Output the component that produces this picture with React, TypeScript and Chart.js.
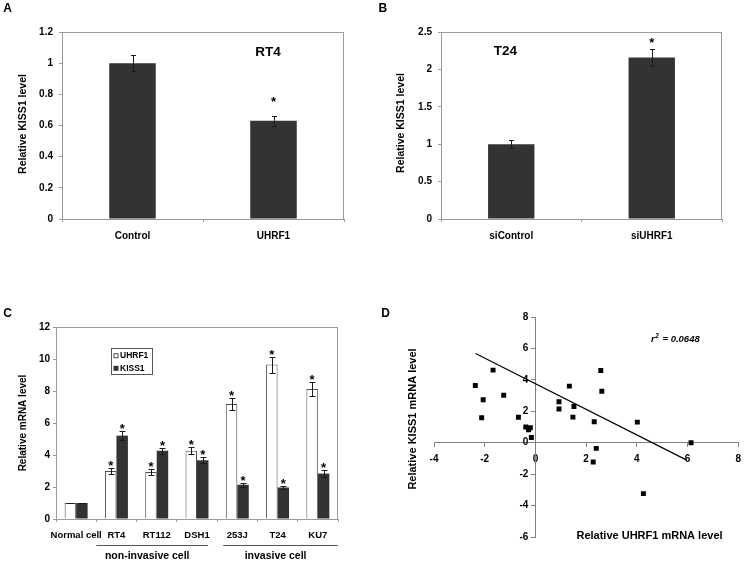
import React, { useEffect, useRef } from "react";
import { Chart, registerables } from "chart.js";

Chart.register(...registerables);

// ---------------- data ----------------
// Panel A (RT4, UHRF1 overexpression)
const aCategories = ["Control", "UHRF1"];
const aValues = [1.0, 0.63];
const aErrors = [0.05, 0.03];
const aSignificant = [false, true];

// Panel B (T24, UHRF1 knock-down)
const bCategories = ["siControl", "siUHRF1"];
const bValues = [1.0, 2.16];
const bErrors = [0.05, 0.11];
const bSignificant = [false, true];

// Panel C (cell lines)
const cCategories = ["Normal cell", "RT4", "RT112", "DSH1", "253J", "T24", "KU7"];
const cUhrf1 = [1.0, 3.0, 2.93, 4.26, 7.18, 9.65, 8.12];
const cUhrf1Err = [0.03, 0.2, 0.18, 0.22, 0.36, 0.5, 0.42];
const cKiss1 = [1.0, 5.21, 4.26, 3.67, 2.14, 1.97, 2.84];
const cKiss1Err = [0.03, 0.28, 0.2, 0.2, 0.13, 0.12, 0.2];
const cSignificant = [false, true, true, true, true, true, true];
const cGroupLabels = ["non-invasive cell", "invasive cell"];
const cGroupStart = [1, 4];
const cGroupEnd = [3, 6];

// Panel D (correlation)
const dUhrf1 = [-2.37, -2.06, -2.12, -1.67, -1.25, -0.67, -0.38, -0.27, -0.2, -0.16, 0.93, 0.93, 1.34, 1.52, 1.48, 2.58, 2.62, 2.32, 2.4, 2.28, 4.02, 4.26, 6.14];
const dKiss1 = [3.64, 2.74, 1.59, 4.62, 3.02, 1.62, 1.0, 0.82, 0.95, 0.33, 2.61, 2.15, 3.6, 2.3, 1.63, 4.6, 3.28, 1.34, -0.36, -1.23, 1.31, -3.24, 0.0];
const dTrendX = [-2.36, 5.97];
const dTrendY = [5.68, -1.11];
const dRSquared = "0.0648";

// ---------------- styles ----------------
const FONT = "'Liberation Sans', Arial, Helvetica, sans-serif";
const INK = "#000000";
const DARK_BAR = "#333333";
const FRAME = "#9a9a9a";
const AXIS = "#808080";

type Area = { left: number; top: number; right: number; bottom: number };

const fmt = (v: any) => `${Math.round(Number(v) * 100) / 100}`;

function drawText(
  ctx: any,
  str: string,
  x: number,
  y: number,
  size: number,
  opts: { align?: string; rotate?: number; italic?: boolean } = {}
) {
  ctx.save();
  ctx.font = `${opts.italic ? "italic " : ""}bold ${size}px ${FONT}`;
  ctx.fillStyle = INK;
  ctx.textAlign = opts.align || "center";
  ctx.textBaseline = "middle";
  ctx.translate(x, y);
  if (opts.rotate) ctx.rotate(opts.rotate);
  ctx.fillText(str, 0, 0);
  ctx.restore();
}

function errorBarPlugin(capHalf: number, starGap: number, starSize: number) {
  return {
    id: "errorBars",
    afterDatasetsDraw(chart: any) {
      const ctx = chart.ctx;
      const ys = chart.scales.y;
      chart.data.datasets.forEach((ds: any, di: number) => {
        if (!ds.errors) return;
        const meta = chart.getDatasetMeta(di);
        meta.data.forEach((el: any, i: number) => {
          const v = ds.data[i];
          const e = ds.errors[i];
          const x = Math.round(el.x) + 0.5;
          const yt = Math.round(ys.getPixelForValue(v + e)) + 0.5;
          const yb = Math.round(ys.getPixelForValue(v - e)) + 0.5;
          ctx.save();
          ctx.strokeStyle = "#1a1a1a";
          ctx.lineWidth = 1;
          ctx.beginPath();
          ctx.moveTo(x, yt);
          ctx.lineTo(x, yb);
          ctx.moveTo(x - capHalf, yt);
          ctx.lineTo(x + capHalf, yt);
          ctx.moveTo(x - capHalf, yb);
          ctx.lineTo(x + capHalf, yb);
          ctx.stroke();
          if (ds.significant && ds.significant[i]) {
            ctx.font = `bold ${starSize}px ${FONT}`;
            ctx.fillStyle = INK;
            ctx.textAlign = "center";
            ctx.textBaseline = "alphabetic";
            ctx.fillText("*", el.x, yt - starGap + 0.575 * starSize);
          }
          ctx.restore();
        });
      });
    },
  };
}

const framePlugin = {
  id: "frame",
  beforeDatasetsDraw(chart: any) {
    const { left, top, right, bottom } = chart.chartArea;
    const ctx = chart.ctx;
    ctx.save();
    ctx.strokeStyle = FRAME;
    ctx.lineWidth = 1;
    const l = Math.round(left) + 0.5;
    const t = Math.round(top) + 0.5;
    const r = Math.round(right) - 0.5;
    const b = Math.round(bottom) + 0.5;
    ctx.strokeRect(l, t, r - l, b - t);
    ctx.restore();
  },
};

const tickFont = { family: FONT, size: 10, weight: "bold" as const };

function simpleBarConfig(p: {
  categories: string[];
  values: number[];
  errors: number[];
  sig: boolean[];
  yMax: number;
  yStep: number;
  width: number;
  height: number;
  area: Area;
  letter: string;
  letterPos: [number, number];
  yTitlePos: [number, number];
  cellLabel: string;
  cellLabelPos: [number, number];
  starGap: number;
}) {
  const deco = {
    id: "deco",
    afterDraw(chart: any) {
      const ctx = chart.ctx;
      drawText(ctx, p.letter, p.letterPos[0], p.letterPos[1], 12);
      drawText(ctx, "Relative KISS1 level", p.yTitlePos[0], p.yTitlePos[1], 10.5, { rotate: -Math.PI / 2 });
      drawText(ctx, p.cellLabel, p.cellLabelPos[0], p.cellLabelPos[1], 13.5);
    },
  };
  return {
    type: "bar",
    data: {
      labels: p.categories,
      datasets: [
        {
          data: p.values,
          errors: p.errors,
          significant: p.sig,
          backgroundColor: DARK_BAR,
          borderWidth: 0,
          categoryPercentage: 1,
          barPercentage: 0.33,
        },
      ],
    },
    options: {
      responsive: false,
      animation: false,
      layout: { padding: { left: 0, top: p.area.top, right: p.width - p.area.right, bottom: 0 } },
      plugins: { legend: { display: false }, tooltip: { enabled: false } },
      scales: {
        x: {
          grid: { display: true, drawOnChartArea: false, drawTicks: true, tickLength: 3, color: FRAME, offset: true },
          border: { display: false },
          ticks: { font: tickFont, color: INK, padding: 8, maxRotation: 0, minRotation: 0, autoSkip: false },
          afterFit: (s: any) => {
            s.height = p.height - p.area.bottom;
          },
        },
        y: {
          min: 0,
          max: p.yMax,
          ticks: { stepSize: p.yStep, font: tickFont, color: INK, padding: 6, callback: fmt },
          grid: { drawOnChartArea: false, drawTicks: true, tickLength: 3, color: FRAME },
          border: { display: false },
          afterFit: (s: any) => {
            s.width = p.area.left;
          },
        },
      },
    },
    plugins: [framePlugin, errorBarPlugin(2.5, p.starGap, 13), deco],
  };
}

function configA() {
  return simpleBarConfig({
    categories: aCategories,
    values: aValues,
    errors: aErrors,
    sig: aSignificant,
    yMax: 1.2,
    yStep: 0.2,
    width: 374,
    height: 280,
    area: { left: 62, top: 32, right: 344, bottom: 219 },
    letter: "A",
    letterPos: [7.5, 9],
    yTitlePos: [23, 124],
    cellLabel: "RT4",
    cellLabelPos: [268, 52],
    starGap: 17.5,
  });
}

function configB() {
  return simpleBarConfig({
    categories: bCategories,
    values: bValues,
    errors: bErrors,
    sig: bSignificant,
    yMax: 2.5,
    yStep: 0.5,
    width: 374,
    height: 280,
    area: { left: 67, top: 32, right: 348, bottom: 219 },
    letter: "B",
    letterPos: [8.8, 9],
    yTitlePos: [26.7, 123],
    cellLabel: "T24",
    cellLabelPos: [131.5, 51.7],
    starGap: 10,
  });
}

function configC() {
  const W = 374;
  const H = 284;
  const area: Area = { left: 56, top: 47, right: 338, bottom: 239 };
  const insetL = [0, 6];
  const insetR = [9, 0];
  const deco = {
    id: "deco",
    afterDraw(chart: any) {
      const ctx = chart.ctx;
      drawText(ctx, "C", 7.5, 34, 12);
      drawText(ctx, "Relative mRNA level", 23, 143, 10, { rotate: -Math.PI / 2 });
      // group brackets
      const xs = chart.scales.x;
      const half = (xs.getPixelForValue(1) - xs.getPixelForValue(0)) / 2;
      ctx.save();
      ctx.strokeStyle = "#555555";
      ctx.lineWidth = 1;
      cGroupLabels.forEach((lab, g) => {
        const x1 = xs.getPixelForValue(cGroupStart[g]) - half + insetL[g];
        const x2 = xs.getPixelForValue(cGroupEnd[g]) + half - insetR[g];
        ctx.beginPath();
        ctx.moveTo(x1, 265.5);
        ctx.lineTo(x2, 265.5);
        ctx.stroke();
        drawText(ctx, lab, (x1 + x2) / 2 - 5, 276.5, 10.5);
      });
      ctx.restore();
      // legend
      const box = { left: 111, top: 68, width: 41, height: 26 };
      ctx.save();
      ctx.strokeStyle = "#555555";
      ctx.lineWidth = 1;
      ctx.strokeRect(box.left + 0.5, box.top + 0.5, box.width, box.height);
      chart.data.datasets.forEach((ds: any, i: number) => {
        const cy = 75.7 + i * 12.6;
        ctx.fillStyle = ds.backgroundColor;
        ctx.fillRect(113.5, cy - 2.5, 5, 5);
        if (ds.borderWidth) {
          ctx.strokeStyle = ds.borderColor;
          ctx.strokeRect(114, cy - 2, 4, 4);
        }
        drawText(ctx, ds.label, 120, cy, 8.5, { align: "left" });
      });
      ctx.restore();
    },
  };
  return {
    type: "bar",
    data: {
      labels: cCategories,
      datasets: [
        {
          label: "UHRF1",
          data: cUhrf1,
          errors: cUhrf1Err,
          significant: cSignificant,
          backgroundColor: "#ffffff",
          borderColor: "#4d4d4d",
          borderWidth: 1,
          categoryPercentage: 0.57,
          barPercentage: 1,
        },
        {
          label: "KISS1",
          data: cKiss1,
          errors: cKiss1Err,
          significant: cSignificant,
          backgroundColor: DARK_BAR,
          borderWidth: 0,
          categoryPercentage: 0.57,
          barPercentage: 1,
        },
      ],
    },
    options: {
      responsive: false,
      animation: false,
      layout: { padding: { left: 0, top: area.top, right: W - area.right, bottom: 0 } },
      plugins: { legend: { display: false }, tooltip: { enabled: false } },
      scales: {
        x: {
          grid: { display: true, drawOnChartArea: false, drawTicks: true, tickLength: 3, color: FRAME, offset: true },
          border: { display: false },
          ticks: {
            font: { family: FONT, size: 9.5, weight: "bold" as const },
            color: INK,
            padding: 8,
            maxRotation: 0,
            minRotation: 0,
            autoSkip: false,
          },
          afterFit: (s: any) => {
            s.height = H - area.bottom;
          },
        },
        y: {
          min: 0,
          max: 12,
          ticks: { stepSize: 2, font: tickFont, color: INK, padding: 3, callback: fmt },
          grid: { drawOnChartArea: false, drawTicks: true, tickLength: 3, color: FRAME },
          border: { display: false },
          afterFit: (s: any) => {
            s.width = area.left;
          },
        },
      },
    },
    plugins: [framePlugin, errorBarPlugin(3, 6, 13), deco],
  };
}

function configD() {
  const deco = {
    id: "deco",
    afterDraw(chart: any) {
      const ctx = chart.ctx;
      drawText(ctx, "D", 11.5, 34, 12);
      drawText(ctx, "Relative KISS1 mRNA level", 39, 139, 11, { rotate: -Math.PI / 2 });
      drawText(ctx, "Relative UHRF1 mRNA level", 275.5, 256, 11);
      // y tick labels, left of the crossing axis
      const ys = chart.scales.y;
      const x0 = chart.scales.x.getPixelForValue(0);
      ys.ticks.forEach((t: any) => {
        drawText(ctx, fmt(t.value), x0 - 7, ys.getPixelForValue(t.value), 10, { align: "right" });
      });
      // r squared annotation
      ctx.save();
      ctx.fillStyle = INK;
      ctx.textBaseline = "alphabetic";
      ctx.textAlign = "left";
      let x = 277;
      const base = 61.5;
      ctx.font = `italic bold 9.5px ${FONT}`;
      ctx.fillText("r", x, base);
      x += ctx.measureText("r").width + 0.5;
      ctx.font = `italic bold 6.5px ${FONT}`;
      ctx.fillText("2", x, base - 4);
      x += ctx.measureText("2").width + 1;
      ctx.font = `italic bold 9.5px ${FONT}`;
      ctx.fillText(" = " + dRSquared, x, base);
      ctx.restore();
    },
  };
  return {
    type: "scatter",
    data: {
      datasets: [
        {
          data: dUhrf1.map((x, i) => ({ x, y: dKiss1[i] })),
          pointStyle: "rect",
          pointRadius: 3.5,
          backgroundColor: "#000000",
          borderWidth: 0,
        },
        {
          data: dTrendX.map((x, i) => ({ x, y: dTrendY[i] })),
          showLine: true,
          pointRadius: 0,
          borderColor: "#000000",
          borderWidth: 1.2,
          fill: false,
        },
      ],
    },
    options: {
      responsive: false,
      animation: false,
      layout: { padding: { left: 60, top: 37, right: 6, bottom: 27 } },
      plugins: { legend: { display: false }, tooltip: { enabled: false } },
      scales: {
        x: {
          type: "linear",
          min: -4,
          max: 8,
          position: { y: 0 },
          ticks: { stepSize: 2, font: tickFont, color: INK, padding: 7 },
          grid: { drawOnChartArea: false, drawTicks: true, tickLength: 4, color: AXIS },
          border: { display: true, color: AXIS, width: 1 },
        },
        y: {
          type: "linear",
          min: -6,
          max: 8,
          position: { x: 0 },
          ticks: { stepSize: 2, display: false },
          grid: { drawOnChartArea: false, drawTicks: true, tickLength: 4, color: AXIS },
          border: { display: true, color: AXIS, width: 1 },
        },
      },
    },
    plugins: [deco],
  };
}

function ChartBox(props: { left: number; top: number; width: number; height: number; make: () => any }) {
  const ref = useRef<HTMLCanvasElement>(null);
  useEffect(() => {
    const chart = new Chart(ref.current as HTMLCanvasElement, props.make());
    return () => chart.destroy();
  }, []);
  return (
    <canvas
      ref={ref}
      width={props.width}
      height={props.height}
      style={{ position: "absolute", left: props.left, top: props.top, width: props.width, height: props.height }}
    />
  );
}

export default function App() {
  return (
    <div style={{ position: "absolute", left: 0, top: 0, width: 748, height: 564, background: "#ffffff", overflow: "hidden" }}>
      <ChartBox left={0} top={0} width={374} height={280} make={configA} />
      <ChartBox left={374} top={0} width={374} height={280} make={configB} />
      <ChartBox left={0} top={280} width={374} height={284} make={configC} />
      <ChartBox left={374} top={280} width={374} height={284} make={configD} />
    </div>
  );
}
